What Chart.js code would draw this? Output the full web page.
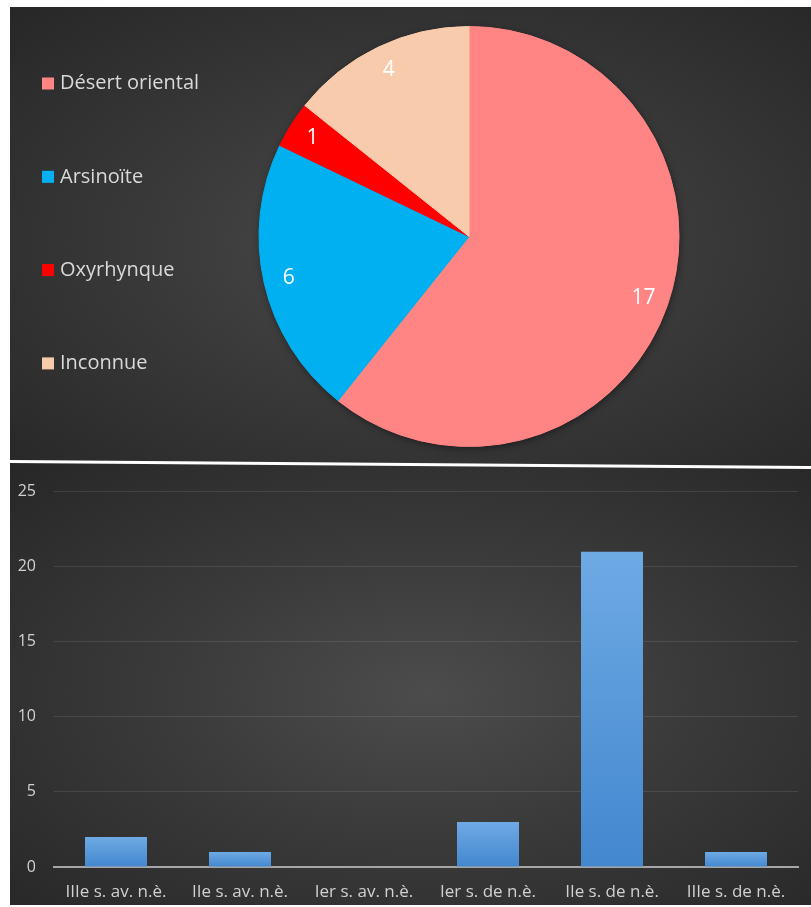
<!DOCTYPE html>
<html>
<head>
<meta charset="utf-8">
<script src="https://cdn.jsdelivr.net/npm/chart.js@4/dist/chart.umd.min.js"></script>
<style>
  html, body { margin: 0; padding: 0; background: #fff; width: 811px; height: 907px; overflow: hidden; }
  .panel { position: absolute; left: 10px; width: 801px;
    background: radial-gradient(ellipse at 52% 52%, #4c4c4c 0%, #3a3a3a 45%, #272727 100%); }
  #top { top: 7px; height: 457px; }
  #bottom { top: 464px; height: 441px; }
  #sep { position: absolute; left: 10px; top: 460px; width: 803px; height: 3px; background: #fff;
    transform-origin: 0 0; transform: rotate(0.43deg); z-index: 2; }
</style>
</head>
<body>
<div class="panel" id="top"><canvas id="pieChart"></canvas></div>
<div id="sep"></div>
<div class="panel" id="bottom"><canvas id="barChart"></canvas></div>
<script>
// provenance (pie)
const regions = ['Désert oriental', 'Arsinoïte', 'Oxyrhynque', 'Inconnue'];
const regionCounts = [17, 6, 1, 4];
const regionColors = ['#ff8585', '#00b0f0', '#ff0000', '#f8cbad'];

// datation (bars)
const centuries = ['IIIe s. av. n.è.', 'IIe s. av. n.è.', 'Ier s. av. n.è.', 'Ier s. de n.è.', 'IIe s. de n.è.', 'IIIe s. de n.è.'];
const centuryCounts = [2, 1, 0, 3, 21, 1];
const yMax = 25;
const yStep = 5;

const FONT = '"Open Sans", Lato, sans-serif';
Chart.defaults.font.family = FONT;
Chart.defaults.color = '#d0d0d0';

// soft shadow under the whole pie
const pieShadow = {
  id: 'pieShadow',
  beforeDatasetsDraw(chart) {
    const arc = chart.getDatasetMeta(0).data[0];
    if (!arc) return;
    const {x, y, outerRadius} = arc.getProps(['x', 'y', 'outerRadius'], true);
    const ctx = chart.ctx;
    ctx.save();
    ctx.shadowColor = 'rgba(0,0,0,0.55)';
    ctx.shadowBlur = 8;
    ctx.shadowOffsetX = 1;
    ctx.shadowOffsetY = 2;
    ctx.beginPath();
    ctx.arc(x, y, outerRadius - 1, 0, Math.PI * 2);
    ctx.fillStyle = '#555';
    ctx.fill();
    ctx.restore();
  }
};

// value written inside each slice
const sliceLabels = {
  id: 'sliceLabels',
  afterDatasetsDraw(chart, args, opts) {
    const meta = chart.getDatasetMeta(0);
    const values = chart.data.datasets[0].data;
    const ctx = chart.ctx;
    ctx.save();
    ctx.font = opts.font;
    ctx.fillStyle = opts.color;
    ctx.textAlign = 'center';
    ctx.textBaseline = 'middle';
    meta.data.forEach((arc, i) => {
      const p = arc.getProps(['x', 'y', 'startAngle', 'endAngle', 'outerRadius'], true);
      const mid = (p.startAngle + p.endAngle) / 2;
      const r = p.outerRadius * opts.offset;
      ctx.fillText(String(values[i]), p.x + Math.cos(mid) * r, p.y + Math.sin(mid) * r);
    });
    ctx.restore();
  }
};

// legend stacked down the left side, widely spaced
const sideLegend = {
  id: 'sideLegend',
  afterDraw(chart, args, opts) {
    const ctx = chart.ctx;
    const colors = chart.data.datasets[0].backgroundColor;
    ctx.save();
    ctx.font = opts.font;
    ctx.textBaseline = 'middle';
    ctx.textAlign = 'left';
    chart.data.labels.forEach((label, i) => {
      const cy = opts.y + i * opts.step;
      ctx.fillStyle = colors[i];
      ctx.fillRect(opts.x, cy - opts.box / 2, opts.box, opts.box);
      ctx.fillStyle = opts.color;
      ctx.fillText(label, opts.x + opts.box + 6, cy);
    });
    ctx.restore();
  }
};

new Chart(document.getElementById('pieChart'), {
  type: 'pie',
  data: {
    labels: regions,
    datasets: [{
      data: regionCounts,
      backgroundColor: regionColors,
      borderColor: regionColors,
      borderWidth: 1
    }]
  },
  options: {
    responsive: true,
    maintainAspectRatio: false,
    animation: false,
    layout: { padding: { top: 19, bottom: 17, left: 248, right: 131 } },
    plugins: {
      legend: { display: false },
      tooltip: { enabled: false },
      sliceLabels: { font: '21px ' + FONT, color: '#ffffff', offset: 0.88 },
      sideLegend: { x: 32, y: 76.5, step: 93.3, box: 12, font: '20px ' + FONT, color: '#d9d9d9' }
    }
  },
  plugins: [pieShadow, sliceLabels, sideLegend]
});

function barFill(c) {
  const fallback = '#5b9bd5';
  const y = c.chart.scales.y;
  if (!y || c.type !== 'data') return fallback;
  const top = y.getPixelForValue(c.raw);
  const bottom = y.getPixelForValue(0);
  if (!isFinite(top) || bottom - top < 1) return fallback;
  const g = c.chart.ctx.createLinearGradient(0, top, 0, bottom);
  g.addColorStop(0, '#6eaae4');
  g.addColorStop(1, '#4387cf');
  return g;
}

new Chart(document.getElementById('barChart'), {
  type: 'bar',
  data: {
    labels: centuries,
    datasets: [{
      data: centuryCounts,
      backgroundColor: barFill,
      barPercentage: 0.5,
      categoryPercentage: 1.0
    }]
  },
  options: {
    responsive: true,
    maintainAspectRatio: false,
    animation: false,
    layout: { padding: { top: 23, bottom: 2, left: 0, right: 13 } },
    plugins: { legend: { display: false }, tooltip: { enabled: false } },
    scales: {
      x: {
        grid: { display: false, drawTicks: false },
        border: { display: true, color: '#a6a6a6', width: 2 },
        ticks: { padding: 15, color: '#d0d0d0', font: { size: 17 }, maxRotation: 0, autoSkip: false },
        afterFit(scale) { scale.height = 36; }
      },
      y: {
        min: 0,
        max: yMax,
        grid: { color: 'rgba(255,255,255,0.10)', drawTicks: false },
        border: { display: false },
        ticks: { stepSize: yStep, padding: 18, color: '#d0d0d0', font: { size: 16 } },
        afterFit(scale) { scale.width = 44; }
      }
    }
  }
});
</script>
</body>
</html>
